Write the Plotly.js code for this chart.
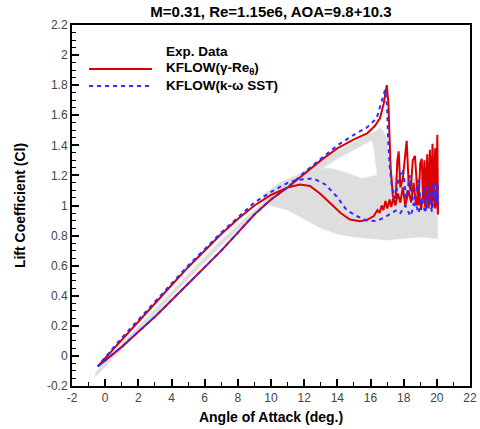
<!DOCTYPE html>
<html>
<head>
<meta charset="utf-8">
<script src="https://cdn.plot.ly/plotly-3.0.1.min.js"></script>
<style>html,body{margin:0;padding:0;background:#fff;}#chart{width:480px;height:429px;}</style>
</head>
<body>
<div id="chart"></div>
<script>
var expLinAoa = [-0.6, 1, 3, 5, 7, 9, 10.2, 10.2, 9, 7, 5, 3, 1, -0.6];
var expLinCl  = [-0.11, 0.08, 0.31, 0.545, 0.77, 0.97, 1.08, 1.05, 0.94, 0.735, 0.51, 0.28, 0.05, -0.14];

var expUpAoa = [10, 12, 14, 15, 16, 16.5, 16.5, 16, 15, 14, 12, 10];
var expUpCl  = [1.08, 1.23, 1.36, 1.42, 1.48, 1.50, 1.44, 1.43, 1.37, 1.31, 1.17, 1.03];

var expDropAoa = [16.0, 16.6, 17.0, 17.15, 17.2, 16.6, 16.4, 16.2];
var expDropCl  = [1.46, 1.52, 1.45, 1.25, 1.0, 1.0, 1.2, 1.38];

var expCloudAoa = [9.5, 10.5, 11.5, 12.5, 13.5, 14.5, 15.5, 16.3, 17.5, 18.5, 19.5, 20.05,
                   20.05, 19, 18, 17, 16, 15, 14, 13, 12, 11, 10, 9.5];
var expCloudCl  = [1.07, 1.15, 1.20, 1.24, 1.25, 1.22, 1.18, 1.20, 1.20, 1.18, 1.20, 1.22,
                   0.78, 0.79, 0.78, 0.77, 0.78, 0.79, 0.81, 0.85, 0.91, 0.97, 1.00, 1.03];

// ---- KFLOW (gamma-Re_theta) ----
var redAoa = [-0.45, 0, 1, 2, 3, 4, 5, 6, 7, 8, 9, 10, 11, 12, 13, 14, 15, 15.8, 16.27, 16.57, 16.8, 16.98,
  17.08, 17.15, 17.22, 17.35,
  17.52, 17.62, 17.7, 17.8, 17.95, 18.18, 18.3, 18.42, 18.55, 18.68, 18.8, 18.88, 19.0, 19.09, 19.17, 19.25,
  19.33, 19.42, 19.5, 19.58, 19.66, 19.74, 19.82, 19.9, 19.97, 20.03, 20.07,
  19.98, 19.9, 19.8, 19.7, 19.6, 19.5, 19.4, 19.3, 19.2, 19.05, 18.9, 18.75, 18.6, 18.45, 18.3, 18.1, 17.95,
  17.8, 17.65, 17.5, 17.38, 17.25, 17.15, 17.02, 16.9, 16.78, 16.67, 16.55, 16.42, 16.2, 15.8, 15.37, 14.76,
  14.2, 13.76, 12.95, 12.35, 11.75, 11, 10, 9, 8, 7, 6, 5, 4, 3, 2, 1, 0, -0.45];
var redCl = [-0.07, -0.03, 0.06, 0.16, 0.26, 0.37, 0.48, 0.59, 0.70, 0.82, 0.94, 1.04, 1.12, 1.21, 1.30, 1.38, 1.44, 1.48, 1.53, 1.58, 1.68, 1.80,
  1.68, 1.45, 1.24, 1.06,
  1.05, 1.30, 1.36, 1.12, 1.18, 1.43, 1.15, 1.10, 1.30, 1.33, 1.08, 1.00, 1.28, 1.31, 1.05, 1.30,
  1.04, 1.34, 1.03, 1.37, 1.06, 1.41, 1.08, 1.38, 1.10, 1.47, 0.94,
  1.12, 0.98, 1.12, 0.98, 1.10, 0.98, 1.12, 0.99, 1.10, 0.97, 1.12, 1.00, 1.15, 1.02, 1.10, 1.00, 1.12,
  1.02, 1.08, 1.00, 1.05, 0.99, 1.04, 0.98, 1.03, 0.97, 1.00, 0.95, 0.97, 0.93, 0.905, 0.896, 0.907,
  0.95, 0.995, 1.08, 1.13, 1.14, 1.12, 1.07, 1.00, 0.91, 0.81, 0.70, 0.59, 0.47, 0.35, 0.23, 0.11, -0.01, -0.07];

// ---- KFLOW (k-omega SST) ----
var blueAoa = [-0.45, 0, 1, 2, 3, 4, 5, 6, 7, 8, 9, 10, 11, 12, 13, 14, 15, 15.8, 16.37, 16.68, 16.88,
  17.0, 17.06, 17.16, 17.3,
  17.5, 17.7, 17.95, 18.15, 18.38, 18.58, 18.88, 19.05, 19.25, 19.4, 19.5, 19.65, 19.8, 19.95, 20.05, 20.08,
  19.9, 19.7, 19.5, 19.3, 19.1, 18.9, 18.7, 18.4, 18.1, 17.8, 17.58, 17.3, 16.98, 16.37, 15.77, 15.17, 14.56,
  13.96, 13.27, 12.55, 11.55, 11, 10, 9, 8, 7, 6, 5, 4, 3, 2, 1, 0, -0.45];
var blueCl = [-0.07, -0.03, 0.06, 0.16, 0.26, 0.37, 0.48, 0.59, 0.70, 0.82, 0.94, 1.04, 1.12, 1.22, 1.31, 1.40, 1.47, 1.52, 1.58, 1.70, 1.77,
  1.66, 1.45, 1.26, 1.12,
  1.05, 1.18, 1.24, 1.05, 1.20, 1.00, 1.17, 1.00, 1.12, 0.98, 1.13, 1.00, 1.15, 1.02, 1.15, 1.00,
  1.10, 0.96, 1.08, 0.95, 1.05, 0.95, 1.02, 0.93, 1.00, 0.95, 0.97, 0.95, 0.93, 0.896, 0.90, 0.93, 0.97,
  1.06, 1.14, 1.18, 1.17, 1.15, 1.09, 1.02, 0.92, 0.82, 0.71, 0.60, 0.48, 0.36, 0.24, 0.12, -0.01, -0.07];

// ---- Tick labels ----
var xTickVals = [-2, 0, 2, 4, 6, 8, 10, 12, 14, 16, 18, 20, 22];
var xTickText = ['-2', '0', '2', '4', '6', '8', '10', '12', '14', '16', '18', '20', '22'];
var yTickVals = [-0.2, 0, 0.2, 0.4, 0.6, 0.8, 1, 1.2, 1.4, 1.6, 1.8, 2, 2.2];
var yTickText = ['-0.2', '0', '0.2', '0.4', '0.6', '0.8', '1', '1.2', '1.4', '1.6', '1.8', '2', '2.2'];

var legendNames = ['Exp. Data', 'KFLOW(γ-Re<sub>θ</sub>)', 'KFLOW(k-ω SST)'];

var GRAY = 'rgb(222,222,222)';
var RED = 'rgb(220,0,0)';
var BLUE = 'rgb(45,45,255)';
var FONT = 'Liberation Sans, Arial, sans-serif';

function grayPoly(x, y) {
  return {x: x, y: y, type: 'scatter', mode: 'lines', fill: 'toself', fillcolor: GRAY,
          line: {width: 0.5, color: GRAY}, hoverinfo: 'skip', showlegend: false};
}

var traces = [
  grayPoly(expCloudAoa, expCloudCl),
  grayPoly(expUpAoa, expUpCl),
  grayPoly(expDropAoa, expDropCl),
  grayPoly(expLinAoa, expLinCl),
  {x: redAoa, y: redCl, type: 'scatter', mode: 'lines', line: {color: RED, width: 2}, showlegend: false},
  {x: blueAoa, y: blueCl, type: 'scatter', mode: 'lines', line: {color: BLUE, width: 2, dash: '4px,4px'}, showlegend: false}
];

var axisCommon = {
  showgrid: false, zeroline: false, showline: true, linecolor: 'black', linewidth: 2, mirror: true,
  ticks: 'inside', ticklen: 7, tickwidth: 2, tickcolor: 'black',
  tickfont: {family: FONT, size: 12, color: '#444'}
};

var layout = {
  width: 480, height: 429,
  margin: {l: 72, r: 10, t: 25, b: 43},
  paper_bgcolor: 'white', plot_bgcolor: 'white',
  showlegend: false,
  title: {text: '<b>M=0.31, Re=1.15e6, AOA=9.8+10.3</b>', font: {family: FONT, size: 15, color: 'black'},
          x: 0.5, xref: 'paper', xanchor: 'center', y: 1 - 12 / 429, yanchor: 'middle'},
  xaxis: Object.assign({}, axisCommon, {
    range: [-2, 22], tickvals: xTickVals, ticktext: xTickText,
    minor: {dtick: 1, ticks: 'inside', ticklen: 4, tickwidth: 1, tickcolor: 'black'},
    title: {text: '<b>Angle of Attack (deg.)</b>', font: {family: FONT, size: 14, color: 'black'}, standoff: 8}
  }),
  yaxis: Object.assign({}, axisCommon, {
    range: [-0.2, 2.2], tickvals: yTickVals, ticktext: yTickText,
    minor: {dtick: 0.05, ticks: 'inside', ticklen: 4, tickwidth: 1, tickcolor: 'black'},
    title: {text: '<b>Lift Coefficient (Cl)</b>', font: {family: FONT, size: 14, color: 'black'}, standoff: 18}
  }),
  shapes: [
    {type: 'line', xref: 'paper', yref: 'paper', x0: (89 - 72) / 398, x1: (152 - 72) / 398,
     y0: 1 - (69 - 25) / 361, y1: 1 - (69 - 25) / 361, line: {color: RED, width: 2}},
    {type: 'line', xref: 'paper', yref: 'paper', x0: (89 - 72) / 398, x1: (152 - 72) / 398,
     y0: 1 - (86 - 25) / 361, y1: 1 - (86 - 25) / 361, line: {color: BLUE, width: 2, dash: '4px,4px'}}
  ],
  annotations: legendNames.map(function (t, i) {
    return {text: '<b>' + t + '</b>', xref: 'paper', yref: 'paper', x: (164 - 72) / 398,
            y: 1 - (52 + 17 * i - 25) / 361, xanchor: 'left', yanchor: 'middle', showarrow: false,
            font: {family: FONT, size: 13.5, color: 'black'}};
  })
};

Plotly.newPlot('chart', traces, layout, {displayModeBar: false, staticPlot: true});
</script>
</body>
</html>
